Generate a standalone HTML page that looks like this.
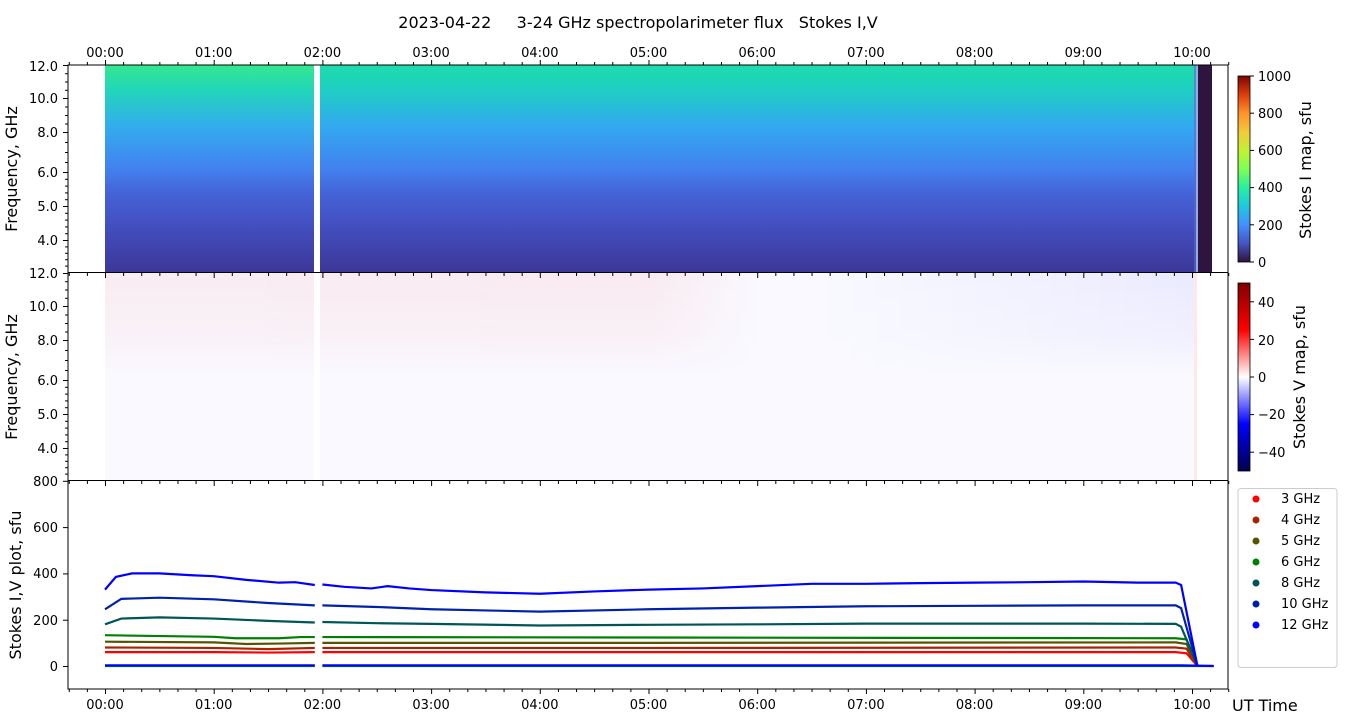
<!DOCTYPE html>
<html><head><meta charset="utf-8"><style>
body{margin:0;background:#fff;}
svg{display:block;font-family:"DejaVu Sans","Liberation Sans",sans-serif;}
</style></head><body>
<svg id="s" width="1350" height="725" xmlns="http://www.w3.org/2000/svg">
<defs>
<linearGradient id="gI" x1="0" y1="0" x2="0" y2="1">
<stop offset="0" stop-color="#1fdcaa"/><stop offset="0.12" stop-color="#1ecfc2"/><stop offset="0.3" stop-color="#33a8f0"/><stop offset="0.5" stop-color="#4282f0"/><stop offset="0.62" stop-color="#4563d8"/><stop offset="0.8" stop-color="#434cbc"/><stop offset="1" stop-color="#3c3898"/>
</linearGradient>
<linearGradient id="gI2" x1="0" y1="0" x2="0" y2="1">
<stop offset="0" stop-color="#34e890"/><stop offset="0.12" stop-color="#22d6b8"/><stop offset="0.3" stop-color="#33acee"/><stop offset="0.5" stop-color="#4282f0"/><stop offset="0.62" stop-color="#4563d8"/><stop offset="0.8" stop-color="#434cbc"/><stop offset="1" stop-color="#3c3898"/>
</linearGradient>
<linearGradient id="vR" x1="0" y1="0" x2="1" y2="0">
<stop offset="0" stop-color="#ff0000" stop-opacity="0.05"/><stop offset="0.5" stop-color="#ff0000" stop-opacity="0.06"/><stop offset="0.6" stop-color="#ff0000" stop-opacity="0"/><stop offset="0.65" stop-color="#0000ff" stop-opacity="0"/><stop offset="1" stop-color="#0000ff" stop-opacity="0.06"/>
</linearGradient>
<linearGradient id="vMask" x1="0" y1="0" x2="0" y2="1">
<stop offset="0" stop-color="#fff"/><stop offset="0.3" stop-color="#fff" stop-opacity="0.6"/><stop offset="0.5" stop-color="#fff" stop-opacity="0"/>
</linearGradient>
<mask id="mk"><rect x="0" y="273" width="1350" height="207" fill="url(#vMask)"/></mask>
<linearGradient id="cbI" x1="0" y1="1" x2="0" y2="0">
<stop offset="0" stop-color="#30123b"/><stop offset="0.1" stop-color="#4454c4"/><stop offset="0.2" stop-color="#4490fe"/><stop offset="0.3" stop-color="#1fc8de"/><stop offset="0.4" stop-color="#29efa2"/><stop offset="0.5" stop-color="#7eff55"/><stop offset="0.6" stop-color="#c2f234"/><stop offset="0.7" stop-color="#f1ca3a"/><stop offset="0.8" stop-color="#fe922a"/><stop offset="0.9" stop-color="#dd3e0b"/><stop offset="1" stop-color="#7a0403"/>
</linearGradient>
<linearGradient id="cbV" x1="0" y1="1" x2="0" y2="0">
<stop offset="0" stop-color="#00004c"/><stop offset="0.25" stop-color="#0000ff"/><stop offset="0.5" stop-color="#ffffff"/><stop offset="0.75" stop-color="#ff0000"/><stop offset="1" stop-color="#800000"/>
</linearGradient>
</defs>
<text x="638" y="28" font-size="16" text-anchor="middle" xml:space="preserve">2023-04-22     3-24 GHz spectropolarimeter flux   Stokes I,V</text>
<rect x="105" y="65" width="209" height="207" fill="url(#gI2)"/>
<rect x="320" y="65" width="876" height="207" fill="url(#gI)"/>
<rect x="1194" y="65" width="6" height="207" fill="#5070d0" opacity="0.6"/>
<rect x="1198" y="65" width="14" height="207" fill="#2e1540"/>
<rect x="105" y="273" width="1091" height="207" fill="#f9f9ff"/>
<rect x="105" y="273" width="1091" height="207" fill="url(#vR)" mask="url(#mk)"/>
<rect x="314" y="273" width="6" height="207" fill="#fff"/>
<rect x="1194" y="273" width="3" height="207" fill="#ffe8e8"/>
<g id="g"></g>
<rect x="68" y="65" width="1160" height="624" fill="none" stroke="#000" stroke-width="1"/>
<line x1="68" y1="272.5" x2="1228" y2="272.5" stroke="#000"/>
<line x1="68" y1="480.5" x2="1228" y2="480.5" stroke="#000"/>
<g font-size="13" text-anchor="end">
<text x="58" y="71">12.0</text><text x="58" y="103">10.0</text><text x="58" y="137">8.0</text><text x="58" y="177">6.0</text><text x="58" y="211">5.0</text><text x="58" y="245">4.0</text>
<text x="58" y="278">12.0</text><text x="58" y="311">10.0</text><text x="58" y="345">8.0</text><text x="58" y="385">6.0</text><text x="58" y="419">5.0</text><text x="58" y="453">4.0</text>
<text x="58" y="486">800</text><text x="58" y="532">600</text><text x="58" y="578">400</text><text x="58" y="625">200</text><text x="58" y="671">0</text>
</g>
<g font-size="13" text-anchor="middle" id="tl"></g>
<g font-size="16">
<text transform="translate(17,169) rotate(-90)" text-anchor="middle">Frequency, GHz</text>
<text transform="translate(17,377) rotate(-90)" text-anchor="middle">Frequency, GHz</text>
<text transform="translate(21,585) rotate(-90)" text-anchor="middle">Stokes I,V plot, sfu</text>
<text x="1232" y="711">UT Time</text>
<text transform="translate(1311,170) rotate(-90)" text-anchor="middle">Stokes I map, sfu</text>
<text transform="translate(1305,377) rotate(-90)" text-anchor="middle">Stokes V map, sfu</text>
</g>
<rect x="1238" y="76" width="12" height="186" fill="url(#cbI)" stroke="#000" stroke-width="0.8"/>
<rect x="1238" y="283" width="12" height="188" fill="url(#cbV)" stroke="#000" stroke-width="0.8"/>
<g font-size="13">
<text x="1258" y="81">1000</text><text x="1258" y="118">800</text><text x="1258" y="155">600</text><text x="1258" y="192">400</text><text x="1258" y="230">200</text><text x="1258" y="267">0</text>
<text x="1258" y="307">40</text><text x="1258" y="345">20</text><text x="1258" y="382">0</text><text x="1258" y="419">−20</text><text x="1258" y="457">−40</text>
</g>
<rect x="1238" y="488.5" width="99" height="179" rx="3" fill="#fff" stroke="#ccc"/>
<g font-size="13" id="leg"></g>
<g font-size="13">
<text x="1281" y="503">3 GHz</text><text x="1281" y="524">4 GHz</text><text x="1281" y="545">5 GHz</text><text x="1281" y="566">6 GHz</text><text x="1281" y="587">8 GHz</text><text x="1281" y="608">10 GHz</text><text x="1281" y="629">12 GHz</text>
</g>
</svg>
<script>
const NS="http://www.w3.org/2000/svg",g=document.getElementById('g'),s=document.getElementById('s');
function el(t,a,p){const e=document.createElementNS(NS,t);for(const k in a)e.setAttribute(k,a[k]);(p||g).appendChild(e);return e;}
const X=h=>105+h*108.7;
for(let m=-20;m<=620;m+=10){const x=X(m/60)+0.5,maj=m%60==0,L=maj?5:3;
 el('line',{x1:x,y1:65,x2:x,y2:65-L,stroke:'#000'});
 el('line',{x1:x,y1:273,x2:x,y2:273+L,stroke:'#000'});
 el('line',{x1:x,y1:481,x2:x,y2:481+L,stroke:'#000'});
 el('line',{x1:x,y1:689,x2:x,y2:689+L,stroke:'#000'});
}
const tl=document.getElementById('tl');
for(let h=0;h<=10;h++){const lab=(h<10?'0':'')+h+':00';
 let t=el('text',{x:X(h),y:57},tl);t.textContent=lab;
 t=el('text',{x:X(h),y:709},tl);t.textContent=lab;}
const fp=[[12,65],[10,98],[8,132],[6,172],[5,206],[4,240],[3,272]];
function FY(f){for(let i=0;i<fp.length-1;i++){const[a,ya]=fp[i],[b,yb]=fp[i+1];if(f<=a&&f>=b)return ya+(a-f)/(a-b)*(yb-ya);}return 272;}
for(const off of[0,208]){
 for(let f=12;f>=3.01;f-=(f>6?0.5:0.2)){const y=FY(f)+off+0.5;const maj=[12,10,8,6,5,4].some(v=>Math.abs(v-f)<0.01);
  el('line',{x1:68,y1:y,x2:68-(maj?5:3),y2:y,stroke:'#000'});}
}
for(let v=0;v<=800;v+=200){const y=666-v*0.2315+0.5;el('line',{x1:68,y1:y,x2:63,y2:y,stroke:'#000'});}
for(let v=0;v<=1000;v+=200){const y=262-v*0.186;el('line',{x1:1250,y1:y,x2:1254,y2:y,stroke:'#000'});}
for(let v=-40;v<=40;v+=20){const y=377-v*1.88;el('line',{x1:1250,y1:y,x2:1254,y2:y,stroke:'#000'});}
const Y=v=>666-v*0.2315;
const S=[
['#ff0000',[[0,60],[1,60],[1.5,58],[1.93,60],[2,60],[5,60],[9.85,60],[9.95,55]]],
['#aa2200',[[0,80],[1,78],[1.5,73],[1.93,78],[2,78],[5,78],[9.85,80],[9.95,75]]],
['#555500',[[0,105],[1,102],[1.3,95],[1.6,97],[1.93,100],[2,100],[5,100],[9.85,102],[9.95,95]]],
['#008000',[[0,133],[1,126],[1.2,120],[1.6,120],[1.8,125],[1.93,125],[2,125],[5,123],[9.85,120],[9.95,115]]],
['#005555',[[0,180],[0.15,205],[0.5,210],[1,205],[1.5,195],[1.93,188],[2,190],[2.5,185],[3,182],[4,175],[5,178],[6,180],[7,183],[8,183],[9,183],[9.85,182],[9.9,170]]],
['#0022aa',[[0,245],[0.15,290],[0.5,295],[1,288],[1.5,272],[1.93,262],[2,262],[2.5,255],[3,245],[3.5,240],[4,235],[5,245],[6,252],[7,258],[8,260],[9,262],[9.85,262],[9.9,250]]],
['#0000ff',[[0,330],[0.1,385],[0.25,400],[0.5,400],[0.8,392],[1,388],[1.3,372],[1.6,360],[1.75,362],[1.93,350],[2,352],[2.2,342],[2.45,335],[2.6,345],[2.8,335],[3,328],[3.5,318],[4,312],[4.5,322],[5,330],[5.5,335],[6,345],[6.5,355],[7,355],[7.5,358],[8,360],[8.5,362],[9,365],[9.5,360],[9.85,360],[9.9,350]]]
];
for(const[c,p]of S){
 const a=[],b=[];for(const q of p)(q[0]<1.95?a:b).push(q);
 b.push([10.05,0]);
 for(const seg of[a,b])el('polyline',{points:seg.map(q=>X(q[0])+','+Y(q[1])).join(' '),fill:'none',stroke:c,'stroke-width':2.2});
}
el('polyline',{points:`${X(0)},${Y(0)} ${X(1.93)},${Y(0)}`,fill:'none',stroke:'#008000','stroke-width':2.2});
el('polyline',{points:`${X(2)},${Y(0)} ${X(10.2)},${Y(0)}`,fill:'none',stroke:'#008000','stroke-width':2.2});
el('polyline',{points:`${X(0)},${Y(3)} ${X(1.93)},${Y(3)}`,fill:'none',stroke:'#0000ff','stroke-width':2.2});
el('polyline',{points:`${X(2)},${Y(3)} ${X(9.9)},${Y(3)} ${X(10.2)},${Y(0)}`,fill:'none',stroke:'#0000ff','stroke-width':2.2});
const lg=document.getElementById('leg');
S.forEach((d,i)=>el('circle',{cx:1256,cy:499+i*21,r:3.5,fill:d[0]},lg));
</script>
</body></html>
